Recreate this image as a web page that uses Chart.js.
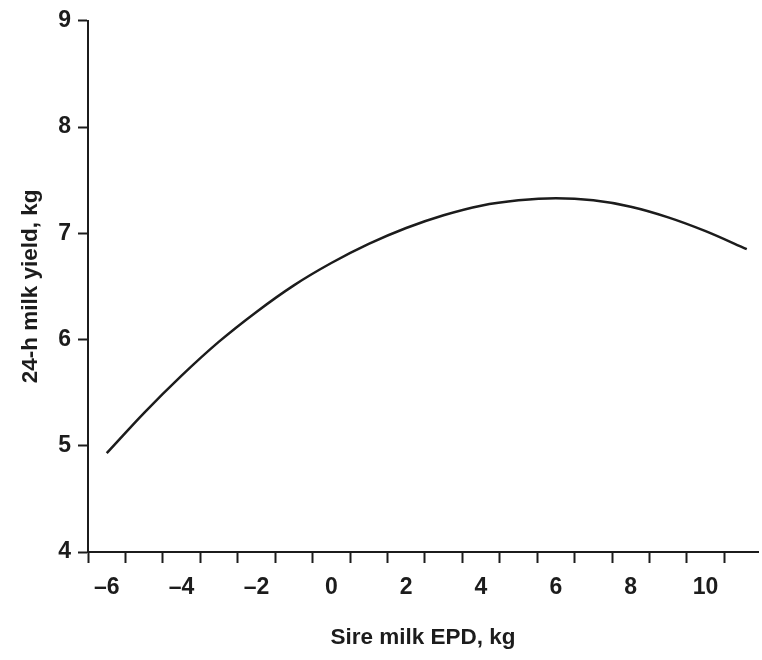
<!DOCTYPE html>
<html>
<head>
<meta charset="utf-8">
<script src="https://cdn.jsdelivr.net/npm/chart.js@4"></script>
<style>
  body { margin: 0; background: #fff; }
  #wrap { width: 762px; height: 660px; }
</style>
</head>
<body>
<div id="wrap"><canvas id="myChart"></canvas></div>
<script>
// values
const epd = [-6.0, -5, -4, -3, -2, -1, 0, 1, 2, 3, 4, 5, 6, 7, 8, 9, 10, 11.1];
const milkYield = [4.93, 5.31, 5.66, 5.98, 6.26, 6.51, 6.72, 6.90, 7.05, 7.17, 7.26, 7.31, 7.33, 7.31, 7.25, 7.15, 7.02, 6.85];

// x axis: tick marks sit between the labels
const xTickMarks = [-6.5, -5.5, -4.5, -3.5, -2.5, -1.5, -0.5, 0.5, 1.5, 2.5, 3.5, 4.5, 5.5, 6.5, 7.5, 8.5, 9.5, 10.5];
const xTickLabels = [-6, -4, -2, 0, 2, 4, 6, 8, 10];
const yTicks = [4, 5, 6, 7, 8, 9];

const ink = "#1c1c1c";
const family = "'Liberation Sans', Arial, sans-serif";
const tickFont = { family: family, weight: "bold", size: 23 };
const titleFont = { family: family, weight: "bold", size: 22.5 };

const points = epd.map(function(x, i) { return { x: x, y: milkYield[i] }; });

new Chart("myChart", {
  type: "line",
  data: {
    datasets: [{
      data: points,
      borderColor: ink,
      borderWidth: 2.5,
      pointRadius: 0,
      cubicInterpolationMode: "monotone",
      fill: false
    }]
  },
  options: {
    responsive: true,
    maintainAspectRatio: false,
    animation: false,
    layout: { padding: { top: 18, right: 4, left: 0, bottom: 0 } },
    plugins: { legend: { display: false }, tooltip: { enabled: false } },
    scales: {
      x: {
        type: "linear",
        min: -6.5,
        max: 11.4,
        afterBuildTicks: function(scale) {
          const vals = xTickMarks.concat(xTickLabels).sort(function(a, b) { return a - b; });
          scale.ticks = vals.map(function(v) { return { value: v }; });
        },
        afterFit: function(scale) { scale.height = 108; },
        border: { color: ink, width: 2 },
        grid: {
          drawOnChartArea: false,
          drawTicks: true,
          tickLength: 11,
          tickWidth: 2,
          tickColor: function(ctx) {
            return ctx.tick && xTickMarks.indexOf(ctx.tick.value) >= 0 ? ink : "rgba(0,0,0,0)";
          }
        },
        ticks: {
          autoSkip: false,
          maxRotation: 0,
          padding: 11,
          color: ink,
          font: tickFont,
          callback: function(v) {
            if (xTickLabels.indexOf(v) < 0) return "";
            return v < 0 ? "\u2013" + Math.abs(v) : String(v);
          }
        },
        title: {
          display: true,
          text: "Sire milk EPD, kg",
          color: ink,
          font: titleFont,
          padding: { top: 0, bottom: 9 }
        }
      },
      y: {
        min: 4,
        max: 9,
        afterBuildTicks: function(scale) {
          scale.ticks = yTicks.map(function(v) { return { value: v }; });
        },
        afterFit: function(scale) { scale.width = 88; },
        border: { color: ink, width: 2 },
        grid: {
          drawOnChartArea: false,
          drawTicks: true,
          tickLength: 10,
          tickWidth: 2,
          tickColor: ink
        },
        ticks: { padding: 7, color: ink, font: tickFont },
        title: {
          display: true,
          text: "24-h milk yield, kg",
          color: ink,
          font: titleFont,
          padding: { top: 17, bottom: 0 }
        }
      }
    }
  }
});
</script>
</body>
</html>
